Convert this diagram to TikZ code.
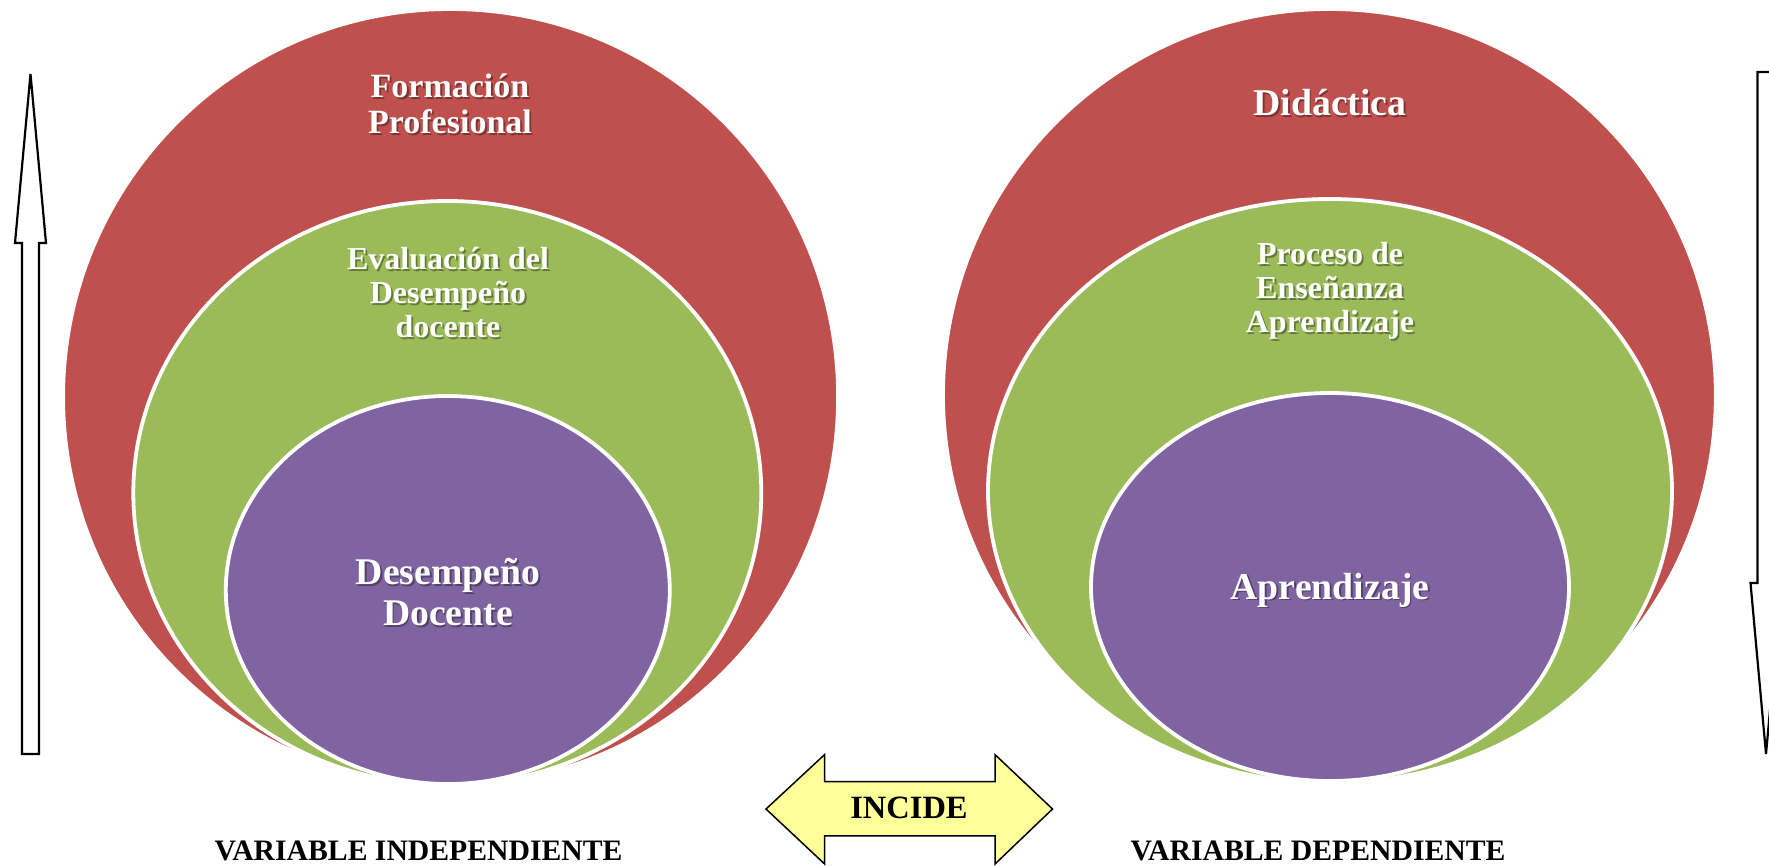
\documentclass[tikz,border=0pt]{standalone}
\usepackage{fontspec}
\setmainfont{Liberation Serif}
\definecolor{cred}{HTML}{C0504D}
\definecolor{cgreen}{HTML}{9BBB59}
\definecolor{cpurple}{HTML}{8064A2}
\definecolor{cyel}{HTML}{FFFF99}
\newcommand\mylabel[4]{%
  \node[shd,font=\bfseries#3] (#1s) at (#2) [xshift=1.8pt,yshift=-1.8pt] {#4};
  \node[lbl,font=\bfseries#3] (#1) at (#2) {#4};}
\begin{document}
\begin{tikzpicture}[x=1pt,y=-1pt,
  ring/.style={draw=white,line width=3.8pt},
  lbl/.style={text=white,align=center,inner sep=0pt},
  shd/.style={text=black,text opacity=0.35,align=center,inner sep=0pt},
  vlbl/.style={text=black,font=\bfseries\fontsize{29.7}{32}\selectfont,inner sep=0pt},
  bigarrow/.style={draw=black,line width=2.2pt,fill=white,line join=miter},
  incarrow/.style={draw=black,line width=1.5pt,fill=cyel,line join=miter}
]
\clip (0,0) rectangle (1769,866);
\fill[white] (0,0) rectangle (1769,866);

% left nested target
\path[fill=cred,ring] (450.6,397) ellipse [x radius=387.5,y radius=388];
\path[fill=cgreen,ring] (447.3,493) ellipse [x radius=314,y radius=292];
\path[fill=cpurple,ring] (447.8,590) ellipse [x radius=222,y radius=194];

% right nested target
\path[fill=cred,ring] (1329.4,395) ellipse [x radius=386.4,y radius=386];
\path[fill=cgreen,ring] (1330,491) ellipse [x radius=342,y radius=292];
\path[fill=cpurple,ring] (1330,587) ellipse [x radius=239,y radius=194];

% labels
\mylabel{form}{450,104}{\fontsize{34}{36}\selectfont}{Formación\\Profesional}
\mylabel{eval}{448,293}{\fontsize{32}{34}\selectfont}{Evaluación del\\Desempeño\\docente}
\mylabel{desd}{448,592}{\fontsize{37.7}{41}\selectfont}{Desempeño\\Docente}
\mylabel{dida}{1330,103}{\fontsize{37.8}{41}\selectfont}{Didáctica}
\mylabel{proc}{1330,291}{\fontsize{32}{34}\selectfont}{Proceso de\\Enseñanza\\Aprendizaje}
\mylabel{apre}{1330,590}{\fontsize{37.8}{41}\selectfont}{Aprendizaje}

% side arrows
\draw[bigarrow] (30.5,74) -- (46,243) -- (39,243) -- (39,754) -- (22,754) -- (22,243) -- (15,243) -- cycle;
\draw[bigarrow] (1757.5,72) -- (1774.5,72) -- (1774.5,583) -- (1781.5,583) -- (1766,754) -- (1750.5,583) -- (1757.5,583) -- cycle;

% incide arrow
\draw[incarrow] (766,809) -- (824.6,754.6) -- (824.6,781.7) -- (995,781.7) -- (995,754.6) -- (1052.5,809) -- (995,864) -- (995,835.8) -- (824.6,835.8) -- (824.6,864) -- cycle;
\node[text=black,font=\bfseries\fontsize{32.5}{34}\selectfont,inner sep=0pt] (inc) at (909,808) {INCIDE};

% variable labels
\node[vlbl] (vind) at (418.6,851) {VARIABLE INDEPENDIENTE};
\node[vlbl] (vdep) at (1318,851) {VARIABLE DEPENDIENTE};
\end{tikzpicture}
\end{document}
